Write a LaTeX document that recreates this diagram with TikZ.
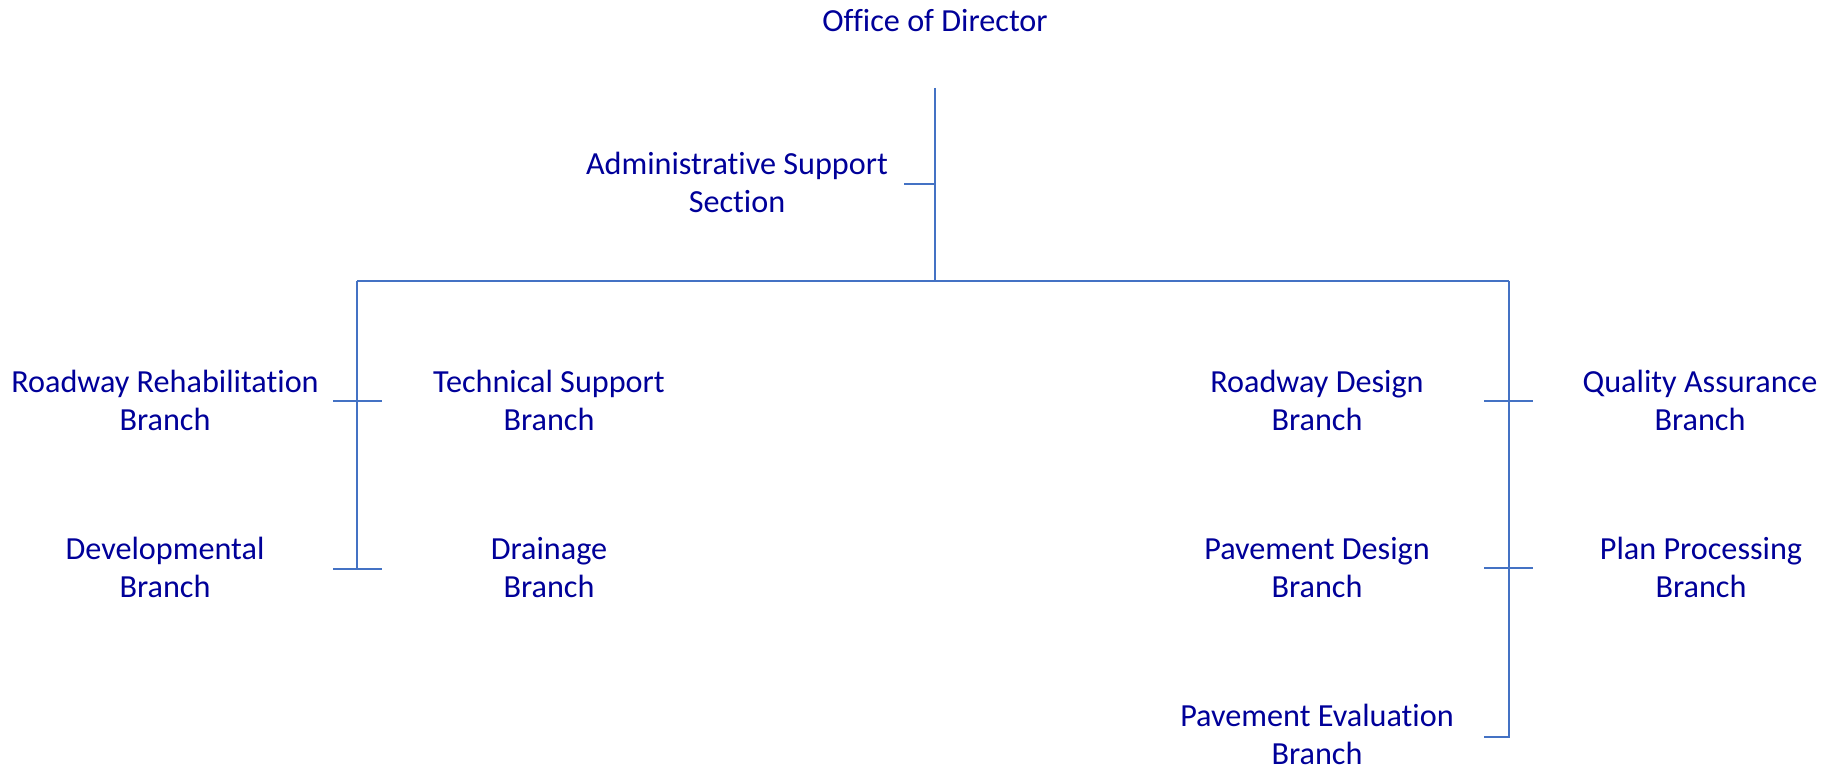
\documentclass[tikz,border=0pt]{standalone}
\usepackage{fontspec}
\setmainfont{Carlito}[Ligatures=NoCommon]
\definecolor{txtblue}{RGB}{0,0,153}
\definecolor{lineblue}{RGB}{68,114,196}
\begin{document}
\begin{tikzpicture}[x=0.5pt,y=-0.5pt,
  lbl/.style={anchor=base,inner sep=0pt,align=center,text=txtblue,font=\fontsize{16.1pt}{19pt}\selectfont},
  conn/.style={draw=lineblue,line width=1pt}]
\useasboundingbox (0,0) rectangle (1832,770);
% labels (anchor at baseline of last line)
\node[lbl] (dir) at (935,32) {Office of Director};
\node[lbl] (admin) at (737,213) {Administrative Support\\Section};
\node[lbl] (rr) at (165,430) {Roadway Rehabilitation\\Branch};
\node[lbl] (ts) at (549,430) {Technical Support\\Branch};
\node[lbl] (dev) at (165,597) {Developmental\\Branch};
\node[lbl] (dr) at (549,597) {Drainage\\Branch};
\node[lbl] (rd) at (1317,430) {Roadway Design\\Branch};
\node[lbl] (qa) at (1700,430) {Quality Assurance\\Branch};
\node[lbl] (pd) at (1317,597) {Pavement Design\\Branch};
\node[lbl] (pp) at (1701,597) {Plan Processing\\Branch};
\node[lbl] (pe) at (1317,764) {Pavement Evaluation\\Branch};
% connector points
\coordinate (top) at (935,88);
\coordinate (busM) at (935,281);
\coordinate (busL) at (357,281);
\coordinate (busR) at (1509,281);
\coordinate (admJ) at (935,184);
\coordinate (admE) at (904,184);
\coordinate (L1a) at (333,401);
\coordinate (L1b) at (382,401);
\coordinate (L2) at (357,569);
\coordinate (L2a) at (333,569);
\coordinate (L2b) at (382,569);
\coordinate (R1a) at (1484,401);
\coordinate (R1b) at (1533,401);
\coordinate (R2a) at (1484,568);
\coordinate (R2b) at (1533,568);
\coordinate (R3) at (1509,737);
\coordinate (R3a) at (1484,737);
% connectors
\draw[conn] (top) -- (busM);
\draw[conn] (admE) -- (admJ);
\draw[conn] (busL) -- (busR);
\draw[conn] (busL) -- (L2);
\draw[conn] (L1a) -- (L1b);
\draw[conn] (L2a) -- (L2b);
\draw[conn] (busR) -- (R3) -- (R3a);
\draw[conn] (R1a) -- (R1b);
\draw[conn] (R2a) -- (R2b);
\end{tikzpicture}
\end{document}
